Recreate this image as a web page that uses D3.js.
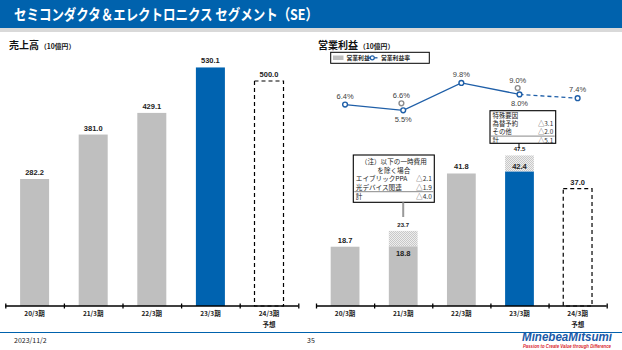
<!DOCTYPE html>
<html><head><meta charset="utf-8">
<script src="https://cdn.jsdelivr.net/npm/d3@7"></script>
<style>
html,body{margin:0;padding:0;background:#fff;}
svg{display:block;}
text{font-family:"Noto Sans CJK JP","Noto Sans",sans-serif;}
.num{font-family:"Liberation Sans",Arial,sans-serif;}
</style></head><body>
<svg id="c" width="622" height="350"></svg>
<script>
const categories = ["20/3期","21/3期","22/3期","23/3期","24/3期"];
const subLabels = ["","","","","予想"];
const sales = [282.2, 381.0, 429.1, 530.1, 500.0];
const opIncome = [18.7, 18.8, 41.8, 42.4, 37.0];
const opIncomeAdj = [null, 23.7, null, 47.5, null];
const opMargin = [6.4, 5.5, 9.8, 8.0, 7.4];
const opMarginAdj = [null, 6.6, null, 9.0, null];
const barKind = ["actual","actual","actual","current","forecast"];
const note1 = [["（注）以下の一時費用",""],["を除く場合",""],["エイブリックPPA","△2.1"],["光デバイス関連","△1.9"],["計","△4.0"]];
const note2 = [["特殊要因",""],["為替予約","△3.1"],["その他","△2.0"],["計","△5.1"]];

const BLUE="#0063B0", GRAY="#BFBFBF", LINE="#1F5FA8";
const svg=d3.select("#c");
const defs=svg.append("defs");
const pat=defs.append("pattern").attr("id","hatch").attr("width",2).attr("height",2).attr("patternUnits","userSpaceOnUse");
pat.append("rect").attr("width",2).attr("height",2).attr("fill","#eeeeee");
pat.append("rect").attr("width",1).attr("height",1).attr("fill","#c8c8c8");
pat.append("rect").attr("x",1).attr("y",1).attr("width",1).attr("height",1).attr("fill","#c8c8c8");

// header
svg.append("rect").attr("x",0).attr("y",0).attr("width",622).attr("height",28).attr("fill","#0062AD");
svg.append("rect").attr("x",0).attr("y",28).attr("width",622).attr("height",4).attr("fill","#D9D9D9");
svg.append("text").attr("x",14).attr("y",20).attr("fill","#fff").attr("font-size",15).attr("font-weight","bold")
  .attr("textLength",304).attr("lengthAdjust","spacingAndGlyphs").text("セミコンダクタ＆エレクトロニクス セグメント（SE）");

// footer
svg.append("line").attr("x1",0).attr("x2",622).attr("y1",332.5).attr("y2",332.5).attr("stroke","#0062AD").attr("stroke-width",1);
svg.append("text").attr("x",14).attr("y",343).attr("font-size",7).attr("fill","#222").text("2023/11/2");
svg.append("text").attr("x",311).attr("y",343).attr("font-size",7).attr("fill","#222").attr("text-anchor","middle").text("35");
svg.append("text").attr("class","num").attr("x",612).attr("y",341).attr("text-anchor","end").attr("font-size",12.5)
  .attr("font-weight","bold").attr("font-style","italic").attr("fill","#1A5AA8").attr("textLength",90).attr("lengthAdjust","spacingAndGlyphs").text("MinebeaMitsumi");
svg.append("text").attr("class","num").attr("x",611).attr("y",347.5).attr("text-anchor","end").attr("font-size",4.5)
  .attr("font-weight","bold").attr("font-style","italic").attr("fill","#D9262E").attr("textLength",88).attr("lengthAdjust","spacingAndGlyphs").text("Passion to Create Value through Difference");

function panel(x0,x1){
  const x=d3.scaleBand().domain(categories).range([x0,x1]).paddingInner(0.505).paddingOuter(0.2525);
  return {x};
}
function drawAxis(g,x0,x1,baseY){
  const idx=d3.scaleLinear().domain([0,categories.length]).range([x0,x1]);
  const ax=g.append("g").attr("transform",`translate(0,${baseY})`)
    .call(d3.axisBottom(idx).tickValues(d3.range(categories.length+1)).tickSize(5).tickFormat(""));
  ax.select(".domain").attr("stroke","#000").attr("stroke-width",1.3).attr("d",`M${x0},0H${x1}`);
  ax.selectAll(".tick line").attr("stroke","#000").attr("stroke-width",1.3).attr("y1",-2.5).attr("y2",2.5);
}
function catLabels(g,x,baseY){
  categories.forEach((c,i)=>{
    const cx=x(c)+x.bandwidth()/2;
    g.append("text").attr("x",cx).attr("y",baseY+10).attr("text-anchor","middle").attr("font-size",6.5).attr("font-weight","bold").attr("fill","#222").text(c);
    if(subLabels[i]) g.append("text").attr("x",cx).attr("y",baseY+21).attr("text-anchor","middle").attr("font-size",6.5).attr("font-weight","bold").attr("fill","#222").text(subLabels[i]);
  });
}
function valLabel(g,cx,y,t,size){
  g.append("text").attr("class","num").attr("x",cx).attr("y",y).attr("text-anchor","middle").attr("font-size",size||7.5).attr("font-weight","bold").attr("fill","#222").text(t);
}
function sectionTitle(g,x,y,main,unit){
  const t=g.append("text").attr("x",x).attr("y",y).attr("font-size",10).attr("font-weight","bold").attr("fill","#111").text(main);
  const w=t.node().getComputedTextLength();
  g.append("text").attr("x",x+w+1).attr("y",y).attr("font-size",6.8).attr("font-weight","bold").attr("fill","#111").text(unit);
}

// ===== Left: sales =====
const L=svg.append("g");
const baseL=306;
sectionTitle(L,9,49,"売上高","（10億円）");
const pl=panel(5.3,298.3);
const yL=d3.scaleLinear().domain([0,590]).range([baseL,baseL-265.5]);
sales.forEach((v,i)=>{
  const c=categories[i], bx=pl.x(c), bw=pl.x.bandwidth();
  const r=L.append("rect").attr("x",bx).attr("y",yL(v)).attr("width",bw).attr("height",baseL-yL(v));
  if(barKind[i]==="forecast") r.attr("fill","none").attr("stroke","#000").attr("stroke-width",1.2).attr("stroke-dasharray","4,3");
  else r.attr("fill",barKind[i]==="current"?BLUE:GRAY);
  valLabel(L,bx+bw/2,yL(v)-4,v.toFixed(1));
});
drawAxis(L,5.3,298.3,baseL);
catLabels(L,pl.x,baseL);

// ===== Right: operating income =====
const R=svg.append("g");
const baseR=306;
sectionTitle(R,318,49,"営業利益","（10億円）");
// legend
R.append("rect").attr("x",330.7).attr("y",52.3).attr("width",98.6).attr("height",11).attr("fill","#fff").attr("stroke","#000").attr("stroke-width",1);
R.append("rect").attr("x",333).attr("y",55.5).attr("width",10.5).attr("height",4.5).attr("fill",GRAY);
R.append("text").attr("x",346.5).attr("y",60.3).attr("font-size",5.8).attr("font-weight","bold").attr("fill","#222").text("営業利益");
R.append("line").attr("x1",367).attr("x2",377.5).attr("y1",57.8).attr("y2",57.8).attr("stroke",LINE).attr("stroke-width",1.3);
R.append("circle").attr("cx",372.3).attr("cy",57.8).attr("r",2).attr("fill","#fff").attr("stroke",LINE).attr("stroke-width",1.2);
R.append("text").attr("x",381).attr("y",60.3).attr("font-size",5.8).attr("font-weight","bold").attr("fill","#222").text("営業利益率");

const pr=panel(316,606.7);
const yR=d3.scaleLinear().domain([0,60]).range([baseR,baseR-190.2]);
opIncome.forEach((v,i)=>{
  const c=categories[i], bx=pr.x(c), bw=pr.x.bandwidth();
  const adj=opIncomeAdj[i];
  if(adj!=null){
    R.append("rect").attr("x",bx).attr("y",yR(adj)).attr("width",bw).attr("height",yR(v)-yR(adj)).attr("fill","url(#hatch)");
  }
  const r=R.append("rect").attr("x",bx).attr("y",yR(v)).attr("width",bw).attr("height",baseR-yR(v));
  if(barKind[i]==="forecast") r.attr("fill","none").attr("stroke","#000").attr("stroke-width",1.2).attr("stroke-dasharray","4,3");
  else r.attr("fill",barKind[i]==="current"?BLUE:GRAY);
  const cx=bx+bw/2;
  if(adj!=null){
    valLabel(R,cx,yR(adj)-4,adj.toFixed(1),6);
    if(barKind[i]==="current") valLabel(R,cx,yR(v)-2.5,v.toFixed(1));
    else valLabel(R,cx,yR(v)+10,v.toFixed(1));
  } else valLabel(R,cx,yR(v)-4,v.toFixed(1));
});
drawAxis(R,316,606.7,baseR);
catLabels(R,pr.x,baseR);

// margin line
const yM=d3.scaleLinear().domain([0,10]).range([145.2,81.7]);
const cxR=i=>pr.x(categories[i])+pr.x.bandwidth()/2;
const n=opMargin.length;
const lineGen=d3.line().x(d=>cxR(d.i)).y(d=>yM(d.v));
const pts=opMargin.map((v,i)=>({i,v}));
R.append("path").attr("d",lineGen(pts.slice(0,n-1))).attr("fill","none").attr("stroke",LINE).attr("stroke-width",1.3);
R.append("path").attr("d",lineGen(pts.slice(n-2))).attr("fill","none").attr("stroke",LINE).attr("stroke-width",1.3).attr("stroke-dasharray","4,3");
opMarginAdj.forEach((v,i)=>{
  if(v==null) return;
  R.append("circle").attr("cx",cxR(i)-1.8).attr("cy",yM(v)).attr("r",2.4).attr("fill","#fff").attr("stroke","#8C8C8C").attr("stroke-width",1.4);
  R.append("text").attr("class","num").attr("x",cxR(i)-1.8).attr("y",yM(v)-5).attr("text-anchor","middle").attr("font-size",7.5).attr("fill","#404040").text(v.toFixed(1)+"%");
});
pts.forEach(d=>{
  R.append("circle").attr("cx",cxR(d.i)).attr("cy",yM(d.v)).attr("r",2.4).attr("fill","#fff").attr("stroke",LINE).attr("stroke-width",1.4);
  const below = opMarginAdj[d.i]!=null;
  R.append("text").attr("class","num").attr("x",cxR(d.i)).attr("y",below?yM(d.v)+12:yM(d.v)-6).attr("text-anchor","middle").attr("font-size",7.5).attr("fill","#404040").text(d.v.toFixed(1)+"%");
});

// note boxes
function noteBox(g,x,y,w,h,rows,rowH,firstY,sepAfter,centered,fs){
  g.append("rect").attr("x",x).attr("y",y).attr("width",w).attr("height",h).attr("fill","#fff").attr("stroke","#000").attr("stroke-width",1.1);
  rows.forEach((r,k)=>{
    const ty=y+firstY+k*rowH;
    const cen = k<centered;
    g.append("text").attr("x",cen?x+w/2:x+2.5).attr("y",ty).attr("text-anchor",cen?"middle":"start")
      .attr("font-size",fs).attr("fill","#222").text(r[0]);
    if(r[1]) g.append("text").attr("x",x+w-2.5).attr("y",ty).attr("text-anchor","end").attr("font-size",fs).attr("fill","#333").text(r[1]);
  });
  const sy=y+firstY+sepAfter*rowH+1.8;
  g.append("line").attr("x1",x+1).attr("x2",x+w-1).attr("y1",sy).attr("y2",sy).attr("stroke","#888").attr("stroke-width",1);
}
// note for 21/3
noteBox(R,353.3,155,81,47.3,note1,8.7,8.8,3,2,6.6);
R.append("line").attr("x1",cxR(1)).attr("x2",cxR(1)).attr("y1",202.3).attr("y2",217).attr("stroke","#999").attr("stroke-width",2);
// note for 23/3
noteBox(R,490,110.7,65.7,32.6,note2,8.2,7.2,2,0,6.4);
R.append("line").attr("x1",cxR(3)-0.5).attr("x2",cxR(3)-0.5).attr("y1",143.3).attr("y2",148).attr("stroke","#000").attr("stroke-width",1);
</script>
</body></html>
